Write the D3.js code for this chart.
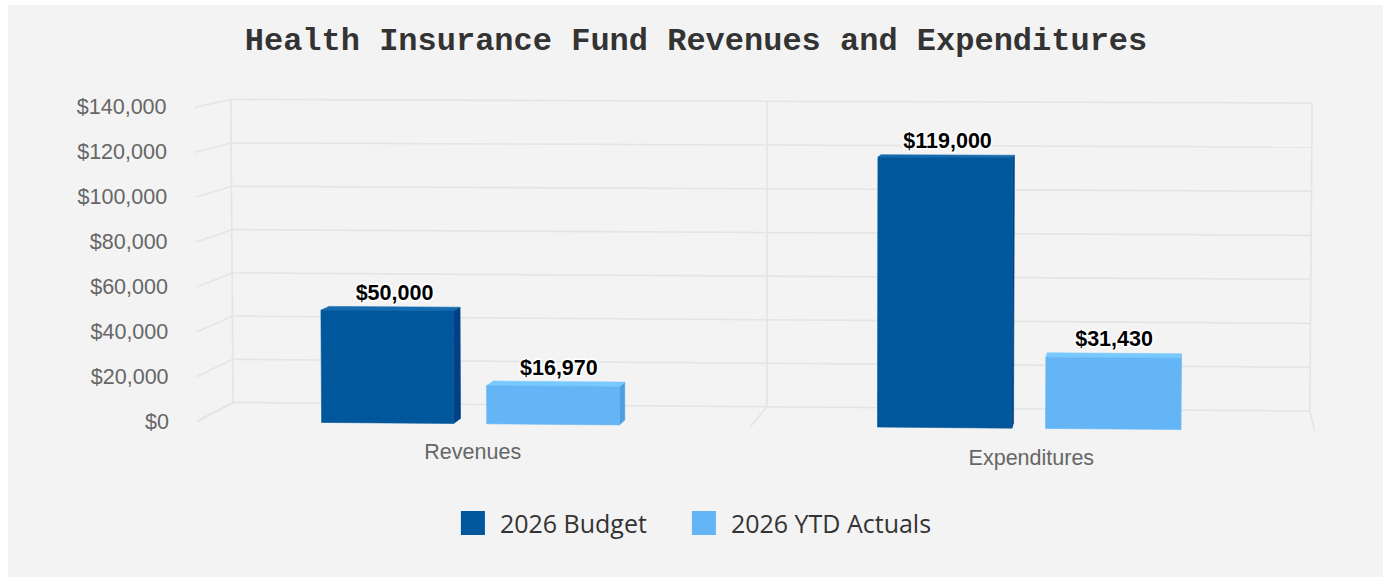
<!DOCTYPE html>
<html>
<head>
<meta charset="utf-8">
<script src="https://cdn.jsdelivr.net/npm/d3@7/dist/d3.min.js"></script>
<style>
  html, body { margin: 0; padding: 0; background: #fff; }
  svg { display: block; }
</style>
</head>
<body>
<div id="chart"></div>
<script>
'use strict';

// chart data
var categories = ['Revenues', 'Expenditures'];
var seriesNames = ['2026 Budget', '2026 YTD Actuals'];
var budget = [50000, 119000];
var ytdActuals = [16970, 31430];
var yTicks = [0, 20000, 40000, 60000, 80000, 100000, 120000, 140000];
var colors = ['#01579b', '#64b5f6'];
var titleText = 'Health Insurance Fund Revenues and Expenditures';

var width = 1393;
var height = 579;

// 3d box (px) + camera
var PW = 1124, PH = 318, D = 200;
var plotLeft = 197, plotTop = 102;
var alpha = 4 * Math.PI / 180;
var beta = 4.7 * Math.PI / 180;
var VD = 5200;
var barZ = 2, barDepth = 50;

var ca = Math.cos(alpha), sa = Math.sin(alpha);
var cb = Math.cos(beta), sb = Math.sin(beta);

var project = function(x, y, z) {
    var X = x - PW / 2, Y = y - PH / 2, Z = z - D / 2;
    var x1 = cb * X + sb * Z;
    var z1 = -sb * X + cb * Z;
    var y2 = ca * Y - sa * z1;
    var z2 = sa * Y + ca * z1;
    var p = VD / (VD + z2 + D / 2);
    return [plotLeft + PW / 2 + x1 * p, plotTop + PH / 2 + y2 * p];
};

var svg = d3.select('#chart')
            .append('svg')
            .attr('width', width)
            .attr('height', height);

svg.append('rect')
    .attr('x', 8)
    .attr('y', 5)
    .attr('width', 1375)
    .attr('height', 572)
    .style('fill', '#f3f3f3');

svg.append('text')
    .attr('x', 696)
    .attr('y', 41)
    .attr('text-anchor', 'middle')
    .attr('dominant-baseline', 'central')
    .style('font-family', '"Courier New", "Liberation Mono", monospace')
    .style('font-weight', 'bold')
    .style('font-size', '32px')
    .style('fill', '#333')
    .text(titleText);

var y = d3.scaleLinear().domain([0, 140000]).range([PH, 0]);
var x0 = d3.scaleBand().domain(categories).range([0, PW]).padding(0);
var bw = x0.bandwidth();
var x1 = d3.scaleBand().domain(seriesNames)
    .range([0.226 * bw, 0.764 * bw])
    .paddingInner(0.2);

var line = d3.line();
var grid = svg.append('g').attr('class', 'grid');
var gridStyle = function(sel) {
    sel.style('fill', 'none')
        .style('stroke', '#e4e4e4')
        .style('stroke-width', 1.6);
};

// back wall horizontal lines
grid.selectAll('.back-h')
    .data(yTicks)
    .enter()
    .append('path')
    .attr('class', 'back-h')
    .attr('d', function(d) {
        return line([project(0, y(d), D), project(PW, y(d), D)]);
    })
    .call(gridStyle);

// left side wall lines
grid.selectAll('.side-h')
    .data(yTicks)
    .enter()
    .append('path')
    .attr('class', 'side-h')
    .attr('d', function(d) {
        return line([project(0, y(d), D), project(0, y(d), 0)]);
    })
    .call(gridStyle);

// category boundaries: back wall verticals + floor lines
var bounds = [0, PW / 2, PW];
grid.selectAll('.back-v')
    .data(bounds)
    .enter()
    .append('path')
    .attr('class', 'back-v')
    .attr('d', function(d) {
        return line([project(d, y(0), D), project(d, y(140000), D)]);
    })
    .call(gridStyle);

grid.selectAll('.floor-v')
    .data(bounds)
    .enter()
    .append('path')
    .attr('class', 'floor-v')
    .attr('d', function(d) {
        return line([project(d, y(0), D), project(d, y(0), 0)]);
    })
    .call(gridStyle);

// y axis labels
svg.selectAll('.y-label')
    .data(yTicks)
    .enter()
    .append('text')
    .attr('class', 'y-label')
    .attr('x', function(d) { return project(0, y(d), 0)[0] - 28; })
    .attr('y', function(d) { return project(0, y(d), 0)[1]; })
    .attr('text-anchor', 'end')
    .attr('dominant-baseline', 'central')
    .style('font-family', '"Liberation Sans", Arial, sans-serif')
    .style('font-size', '21.5px')
    .style('fill', '#666')
    .text(function(d) { return '$' + d3.format(',')(d); });

// x axis labels
svg.selectAll('.x-label')
    .data(categories)
    .enter()
    .append('text')
    .attr('class', 'x-label')
    .attr('x', function(d) { return project(x0(d) + bw / 2, y(0) + 28.5, 0)[0]; })
    .attr('y', function(d, i) { return project(x0(d) + bw / 2, y(0) + 28.5, 0)[1] + i * 1.5; })
    .attr('text-anchor', 'middle')
    .attr('dominant-baseline', 'central')
    .style('font-family', '"Liberation Sans", Arial, sans-serif')
    .style('font-size', '21.5px')
    .style('fill', '#666')
    .text(function(d) { return d; });

// bars
var bars = [];
categories.forEach(function(c, i) {
    [budget[i], ytdActuals[i]].forEach(function(v, s) {
        bars.push({cat: c, series: seriesNames[s], value: v, color: colors[s]});
    });
});

var area = function(pts) {
    var a = 0;
    for (var i = 0; i < pts.length; i++) {
        var p = pts[i], q = pts[(i + 1) % pts.length];
        a += p[0] * q[1] - q[0] * p[1];
    }
    return a;
};

// all six faces, keep the ones turned to the viewer
var barFaces = function(d) {
    var xa = x0(d.cat) + x1(d.series), xb = xa + x1.bandwidth();
    var ya = y(0), yb = y(d.value);
    var za = barZ, zb = barZ + barDepth;
    var c = function(ix, iy, iz) {
        return project(ix ? xb : xa, iy ? yb : ya, iz ? zb : za);
    };
    var base = d3.color(d.color);
    var top = d3.rgb(base.r + 20, base.g + 20, base.b + 20);
    var side = d3.rgb(base.r - 22, base.g - 22, base.b - 22);
    var faces = [
        {pts: [c(1,0,1), c(1,1,1), c(0,1,1), c(0,0,1)], fill: side},
        {pts: [c(1,0,0), c(1,0,1), c(0,0,1), c(0,0,0)], fill: side},
        {pts: [c(0,0,1), c(0,1,1), c(0,1,0), c(0,0,0)], fill: side},
        {pts: [c(1,0,0), c(1,1,0), c(1,1,1), c(1,0,1)], fill: side},
        {pts: [c(0,1,0), c(0,1,1), c(1,1,1), c(1,1,0)], fill: top},
        {pts: [c(0,0,0), c(0,1,0), c(1,1,0), c(1,0,0)], fill: base}
    ];
    return faces.filter(function(f) { return area(f.pts) > 0; });
};

var barGroup = svg.selectAll('g.bar')
    .data(bars)
    .enter()
    .append('g')
    .attr('class', 'bar');

barGroup.selectAll('path')
    .data(barFaces)
    .enter()
    .append('path')
    .attr('d', function(f) { return line(f.pts) + 'Z'; })
    .style('fill', function(f) { return f.fill; })
    .style('stroke', function(f) { return f.fill; })
    .style('stroke-width', 0.6)
    .style('stroke-linejoin', 'round');

// data labels, sitting over the back top edge of each bar
var labelAnchor = function(d) {
    return project(x0(d.cat) + x1(d.series) + x1.bandwidth() / 2, y(d.value), barZ + barDepth);
};

svg.selectAll('.data-label')
    .data(bars)
    .enter()
    .append('text')
    .attr('class', 'data-label')
    .attr('x', function(d) { return labelAnchor(d)[0]; })
    .attr('y', function(d) { return labelAnchor(d)[1] - 14; })
    .attr('text-anchor', 'middle')
    .attr('dominant-baseline', 'central')
    .style('font-family', '"Liberation Sans", Arial, sans-serif')
    .style('font-weight', 'bold')
    .style('font-size', '21.5px')
    .style('fill', '#000')
    .style('stroke', '#fff')
    .style('stroke-width', 3)
    .style('stroke-linejoin', 'round')
    .style('paint-order', 'stroke')
    .text(function(d) { return '$' + d3.format(',')(d.value); });

// legend
var legend = svg.append('g').attr('class', 'legend');
var itemX = 0;
var items = legend.selectAll('g.item')
    .data(seriesNames)
    .enter()
    .append('g')
    .attr('class', 'item');

items.append('rect')
    .attr('x', 0)
    .attr('y', -12)
    .attr('width', 24)
    .attr('height', 24)
    .style('fill', function(d, i) { return colors[i]; });

items.append('text')
    .attr('x', 39)
    .attr('y', 0)
    .attr('dominant-baseline', 'central')
    .style('font-family', '"Open Sans", "Noto Sans", sans-serif')
    .style('font-size', '25px')
    .style('fill', '#333')
    .text(function(d) { return d; });

items.each(function() {
    var w = 39 + d3.select(this).select('text').node().getComputedTextLength();
    d3.select(this).attr('transform', 'translate(' + itemX + ',0)');
    itemX += w + 45;
});
var legendW = itemX - 45;
legend.attr('transform', 'translate(' + (696 - legendW / 2) + ',523)');
</script>
</body>
</html>
